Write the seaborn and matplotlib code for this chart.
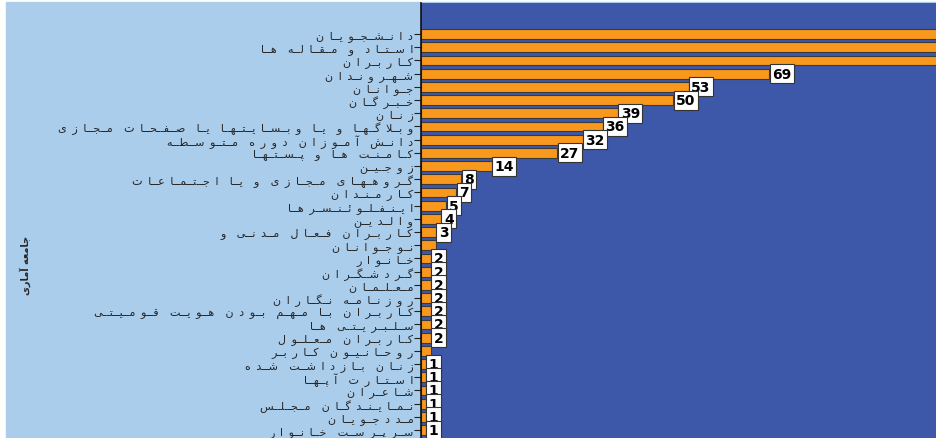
import matplotlib
matplotlib.use("Agg")
import matplotlib.pyplot as plt
import seaborn as sns

# data (top three bars run past the right edge, values estimated)
categories = [
    "دانشجویان", "استاد و مقاله ها", "کاربران", "شهروندان", "جوانان", "خبرگان",
    "زنان", "وبلاگها و یا وبسایتها یا صفحات مجازی", "دانش آموزان دوره متوسطه",
    "کامنت ها و پستها", "زوجین", "گروههای مجازی و یا اجتماعات", "کارمندان",
    "اینفلوئنسرها", "والدین", "کاربران فعال مدنی و", "نوجوانان", "خانوار",
    "گردشگران", "معلمان", "روزنامه نگاران", "کاربران با مهم بودن هویت قومیتی",
    "سلبریتی ها", "کاربران معلول", "روحانیون کاربر", "زنان بازداشت شده",
    "استارت آپها", "شاعران", "نمایندگان مجلس", "مددجویان", "سرپرست خانوار",
]
values = [150, 130, 115, 69, 53, 50, 39, 36, 32, 27, 14, 8, 7, 5, 4, 3, 3,
          2, 2, 2, 2, 2, 2, 2, 2, 1, 1, 1, 1, 1, 1]
# bars whose label is not shown in the original
hidden = ["نوجوانان", "روحانیون کاربر"]
axis_title = "جامعه آماری"

LIGHT = "#abcdec"
DARK = "#3d58a8"
ORANGE = "#f8981d"
XMAX = 102

# minimal arabic/persian shaping (matplotlib does no shaping or bidi)
FORMS = {
    "ا": (0xFE8D, 2), "آ": (0xFE81, 2), "ب": (0xFE8F, 4), "پ": (0xFB56, 4),
    "ت": (0xFE95, 4), "ث": (0xFE99, 4), "ج": (0xFE9D, 4), "چ": (0xFB7A, 4),
    "ح": (0xFEA1, 4), "خ": (0xFEA5, 4), "د": (0xFEA9, 2), "ذ": (0xFEAB, 2),
    "ر": (0xFEAD, 2), "ز": (0xFEAF, 2), "ژ": (0xFB8A, 2), "س": (0xFEB1, 4),
    "ش": (0xFEB5, 4), "ص": (0xFEB9, 4), "ض": (0xFEBD, 4), "ط": (0xFEC1, 4),
    "ظ": (0xFEC5, 4), "ع": (0xFEC9, 4), "غ": (0xFECD, 4), "ف": (0xFED1, 4),
    "ق": (0xFED5, 4), "ک": (0xFB8E, 4), "گ": (0xFB92, 4), "ل": (0xFEDD, 4),
    "م": (0xFEE1, 4), "ن": (0xFEE5, 4), "و": (0xFEED, 2), "ه": (0xFEE9, 4),
    "ی": (0xFBFC, 4), "ئ": (0xFE89, 4),
}


def shape(s, stretch=True):
    # stretch=True adds tatweels / spaces between letters and words, the
    # original renders its persian text widely spaced
    join_gap = "\u0640\u0640" if stretch else ""
    split_gap = "\u2002" if stretch else ""
    word_gap = "\u2002\u2002" if stretch else " "
    out = []
    i = 0
    while i < len(s):
        c = s[i]
        if c == " ":
            out.append(word_gap)
            i += 1
            continue
        if c not in FORMS:
            out.append(c)
            i += 1
            continue
        prev = s[i - 1] if i > 0 else None
        nxt = s[i + 1] if i + 1 < len(s) else None
        join_prev = prev in FORMS and FORMS[prev][1] == 4
        if c == "ل" and nxt == "ا":
            out.append(chr(0xFEFC if join_prev else 0xFEFB))
            i += 2
            if i < len(s) and s[i] in FORMS:
                out.append(split_gap)
            continue
        join_next = FORMS[c][1] == 4 and nxt in FORMS
        if join_prev and join_next:
            k = 3
        elif join_prev:
            k = 1
        elif join_next:
            k = 2
        else:
            k = 0
        out.append(chr(FORMS[c][0] + k))
        if nxt in FORMS:
            out.append(join_gap if join_next else split_gap)
        i += 1
    return "".join(reversed(out))


sns.set_style("white")
plt.rcParams["font.family"] = ["DejaVu Sans"]

fig = plt.figure(figsize=(9.36, 4.39), dpi=100, facecolor="white")
fig.add_artist(plt.Rectangle((6 / 936, 0), 1, 1 - 3 / 439, transform=fig.transFigure,
                             color=LIGHT, zorder=0))
ax = fig.add_axes([421 / 936, 0, 515 / 936, 1 - 4 / 439])
ax.set_facecolor(DARK)

sns.barplot(x=values, y=categories, orient="h", color=ORANGE, saturation=1,
            width=0.74, edgecolor="#3a3a3a", linewidth=0.8, ax=ax)

ax.set_xlim(0, XMAX)
ax.set_ylim(30.6, -2.35)
ax.set_yticks(range(len(categories)), [shape(c) for c in categories], fontsize=8)
ax.set_xticks([])
ax.tick_params(axis="y", length=5, width=0.8, color="#222222", pad=0.5, left=True)
ax.set_xlabel("")
ax.set_ylabel("")
for side in ["top", "right", "bottom"]:
    ax.spines[side].set_visible(False)
ax.spines["left"].set_color("#111111")
ax.spines["left"].set_linewidth(1.2)

for i, (c, v) in enumerate(zip(categories, values)):
    if c in hidden or v > XMAX:
        continue
    ax.text(v + 0.55, i, str(v), va="center", ha="left", fontsize=10,
            fontweight="bold", color="black", clip_on=True,
            bbox=dict(boxstyle="square,pad=0.18", facecolor="white",
                      edgecolor="#333333", linewidth=0.8))

fig.text(25 / 936, 1 - 265 / 439, shape(axis_title, stretch=False), rotation=90,
         fontsize=7, fontweight="bold", ha="center", va="center")

fig.savefig("out.png", dpi=100, facecolor=fig.get_facecolor())
